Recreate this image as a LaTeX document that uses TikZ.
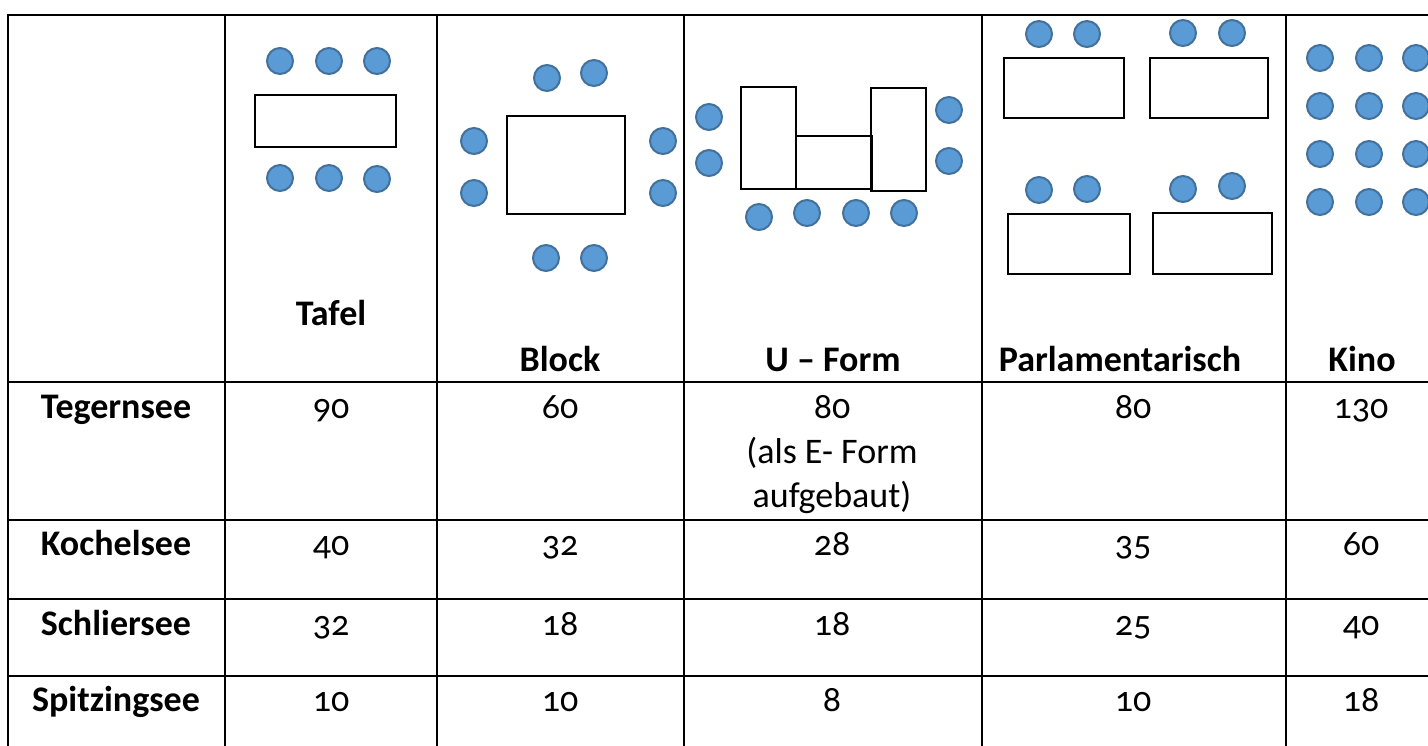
\documentclass[tikz,border=0pt]{standalone}
\usepackage{fontspec}
\setmainfont{Carlito}[Numbers=OldStyle]
\usetikzlibrary{positioning}
\definecolor{seatblue}{HTML}{5B9BD5}
\definecolor{seatrim}{HTML}{41719C}
\newcommand{\tabfont}{\fontsize{36}{44}\selectfont}

\begin{document}
\begin{tikzpicture}[x=1pt, y=-1pt,
	seat/.style={fill=seatblue, draw=seatrim, line width=2pt},
	desk/.style={draw, line width=2.4pt},
	rule/.style={line width=2.4pt},
	head/.style={anchor=base, inner sep=0pt, font=\tabfont\bfseries},
	cell/.style={anchor=base, inner sep=0pt, font=\tabfont}]
\clip (0,0) rectangle (1428,746);

% table grid
\draw[rule] (8,746) -- (8,15) -- (1440,15);
\foreach \x in {225,437,684,982,1286} \draw[rule] (\x,15) -- (\x,746);
\foreach \y in {382,520,599,676} \draw[rule] (8,\y) -- (1440,\y);

% Tafel
\draw[desk] (255,95) rectangle (396,147);
\foreach \x/\y in {280/61, 329/61, 377/61, 280/178, 329/178, 377/179}
	\path[seat] (\x,\y) circle[radius=13pt];

% Block
\draw[desk] (507,116) rectangle (625,214);
\foreach \x/\y in {547/78, 594/73, 474/141, 474/193, 663/141, 663/193, 546/258, 594/258}
	\path[seat] (\x,\y) circle[radius=13pt];

% U-Form
\draw[desk] (741,87) rectangle (796,189);
\draw[desk] (796,136) rectangle (872,189);
\draw[desk] (871,88) rectangle (926,191);
\foreach \x/\y in {709/117, 709/163, 949/110, 949/161, 759/217, 807/213, 856/213, 904/213}
	\path[seat] (\x,\y) circle[radius=13pt];

% Parlamentarisch
\draw[desk] (1004,58) rectangle (1124,118);
\draw[desk] (1150,58) rectangle (1268,118);
\draw[desk] (1008,214) rectangle (1130,274);
\draw[desk] (1153,213) rectangle (1272,274);
\foreach \x/\y in {1039/34, 1087/34, 1183/33, 1232/33, 1039/190, 1087/189, 1183/189, 1232/186}
	\path[seat] (\x,\y) circle[radius=13pt];

% Kino
\foreach \x in {1320,1369,1416}
	\foreach \y in {58,106,154,202}
		\path[seat] (\x,\y) circle[radius=13pt];

% column heads
\node[head] (tafel) at (331,325) {Tafel};
\node[head] (block) at (560,371) {Block};
\node[head] (uform) at (833,371) {U – Form};
\node[head] (parl)  at (1120,371) {Parlamentarisch};
\node[head] (kino)  at (1362,371) {Kino};

% rows
\foreach \lake/\yb/\a/\b/\c/\d/\e in {Tegernsee/418/90/60/80/80/130, Kochelsee/555/40/32/28/35/60,
		Schliersee/635/32/18/18/25/40, Spitzingsee/711/10/10/8/10/18} {
	\node[head] (\lake) at (116,\yb) {\lake};
	\node[cell] (\lake-tafel) at (331,\yb) {\a};
	\node[cell] (\lake-block) at (560,\yb) {\b};
	\node[cell] (\lake-uform) at (832,\yb) {\c};
	\node[cell] (\lake-parl)  at (1133,\yb) {\d};
	\node[cell] (\lake-kino)  at (1361,\yb) {\e};
}
\node[cell] (uform note)  at (832,463) {(als E- Form};
\node[cell] (uform note2) at (832,507) {aufgebaut)};

\end{tikzpicture}
\end{document}
